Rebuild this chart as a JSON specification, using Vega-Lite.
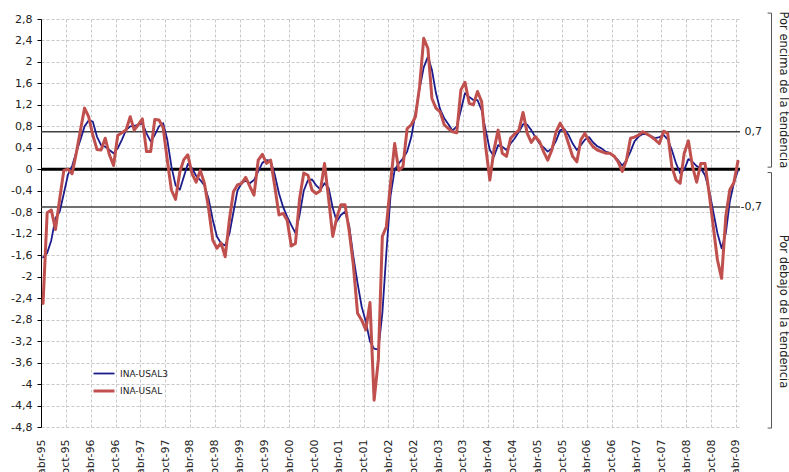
{
  "$schema": "https://vega.github.io/schema/vega-lite/v6.json",
  "width": 699,
  "height": 408,
  "autosize": {"type": "none"},
  "padding": {"left": 41, "top": 19, "right": 49, "bottom": 45},
  "background": "white",
  "config": {"font": "DejaVu Sans", "view": {"stroke": null}, "axis": {"labelOverlap": false, "labelBound": false, "labelFlush": false}},
  "datasets": {
    "main": [
      {"d":"1995-04","INA-USAL3":-1.64,"INA-USAL":-2.50},
      {"d":"1995-05","INA-USAL3":-1.56,"INA-USAL":-0.81},
      {"d":"1995-06","INA-USAL3":-1.32,"INA-USAL":-0.76},
      {"d":"1995-07","INA-USAL3":-0.91,"INA-USAL":-1.12},
      {"d":"1995-08","INA-USAL3":-0.79,"INA-USAL":-0.55},
      {"d":"1995-09","INA-USAL3":-0.45,"INA-USAL":-0.02},
      {"d":"1995-10","INA-USAL3":-0.10,"INA-USAL":0.00},
      {"d":"1995-11","INA-USAL3":0.06,"INA-USAL":-0.08},
      {"d":"1995-12","INA-USAL3":0.32,"INA-USAL":0.30},
      {"d":"1996-01","INA-USAL3":0.55,"INA-USAL":0.73},
      {"d":"1996-02","INA-USAL3":0.80,"INA-USAL":1.14},
      {"d":"1996-03","INA-USAL3":0.91,"INA-USAL":0.98},
      {"d":"1996-04","INA-USAL3":0.89,"INA-USAL":0.64},
      {"d":"1996-05","INA-USAL3":0.61,"INA-USAL":0.37},
      {"d":"1996-06","INA-USAL3":0.45,"INA-USAL":0.36},
      {"d":"1996-07","INA-USAL3":0.42,"INA-USAL":0.58},
      {"d":"1996-08","INA-USAL3":0.36,"INA-USAL":0.27},
      {"d":"1996-09","INA-USAL3":0.30,"INA-USAL":0.07},
      {"d":"1996-10","INA-USAL3":0.39,"INA-USAL":0.63},
      {"d":"1996-11","INA-USAL3":0.55,"INA-USAL":0.68},
      {"d":"1996-12","INA-USAL3":0.73,"INA-USAL":0.73},
      {"d":"1997-01","INA-USAL3":0.80,"INA-USAL":0.98},
      {"d":"1997-02","INA-USAL3":0.81,"INA-USAL":0.73},
      {"d":"1997-03","INA-USAL3":0.83,"INA-USAL":0.83},
      {"d":"1997-04","INA-USAL3":0.86,"INA-USAL":0.94},
      {"d":"1997-05","INA-USAL3":0.67,"INA-USAL":0.33},
      {"d":"1997-06","INA-USAL3":0.52,"INA-USAL":0.33},
      {"d":"1997-07","INA-USAL3":0.64,"INA-USAL":0.93},
      {"d":"1997-08","INA-USAL3":0.80,"INA-USAL":0.92},
      {"d":"1997-09","INA-USAL3":0.86,"INA-USAL":0.78},
      {"d":"1997-10","INA-USAL3":0.55,"INA-USAL":0.17},
      {"d":"1997-11","INA-USAL3":0.05,"INA-USAL":-0.39},
      {"d":"1997-12","INA-USAL3":-0.30,"INA-USAL":-0.56},
      {"d":"1998-01","INA-USAL3":-0.38,"INA-USAL":-0.05},
      {"d":"1998-02","INA-USAL3":-0.14,"INA-USAL":0.18},
      {"d":"1998-03","INA-USAL3":0.10,"INA-USAL":0.27},
      {"d":"1998-04","INA-USAL3":0.02,"INA-USAL":-0.08},
      {"d":"1998-05","INA-USAL3":-0.12,"INA-USAL":-0.24},
      {"d":"1998-06","INA-USAL3":-0.20,"INA-USAL":-0.02},
      {"d":"1998-07","INA-USAL3":-0.30,"INA-USAL":-0.26},
      {"d":"1998-08","INA-USAL3":-0.55,"INA-USAL":-0.73},
      {"d":"1998-09","INA-USAL3":-0.94,"INA-USAL":-1.32},
      {"d":"1998-10","INA-USAL3":-1.25,"INA-USAL":-1.47},
      {"d":"1998-11","INA-USAL3":-1.38,"INA-USAL":-1.37},
      {"d":"1998-12","INA-USAL3":-1.42,"INA-USAL":-1.63},
      {"d":"1999-01","INA-USAL3":-1.20,"INA-USAL":-0.94},
      {"d":"1999-02","INA-USAL3":-0.80,"INA-USAL":-0.42},
      {"d":"1999-03","INA-USAL3":-0.40,"INA-USAL":-0.29},
      {"d":"1999-04","INA-USAL3":-0.26,"INA-USAL":-0.26},
      {"d":"1999-05","INA-USAL3":-0.21,"INA-USAL":-0.15},
      {"d":"1999-06","INA-USAL3":-0.26,"INA-USAL":-0.32},
      {"d":"1999-07","INA-USAL3":-0.20,"INA-USAL":-0.48},
      {"d":"1999-08","INA-USAL3":-0.04,"INA-USAL":0.17},
      {"d":"1999-09","INA-USAL3":0.12,"INA-USAL":0.28},
      {"d":"1999-10","INA-USAL3":0.17,"INA-USAL":0.11},
      {"d":"1999-11","INA-USAL3":0.16,"INA-USAL":0.17},
      {"d":"1999-12","INA-USAL3":-0.10,"INA-USAL":-0.32},
      {"d":"2000-01","INA-USAL3":-0.45,"INA-USAL":-0.85},
      {"d":"2000-02","INA-USAL3":-0.70,"INA-USAL":-0.82},
      {"d":"2000-03","INA-USAL3":-0.88,"INA-USAL":-0.95},
      {"d":"2000-04","INA-USAL3":-1.04,"INA-USAL":-1.43},
      {"d":"2000-05","INA-USAL3":-1.19,"INA-USAL":-1.38},
      {"d":"2000-06","INA-USAL3":-0.85,"INA-USAL":-0.55},
      {"d":"2000-07","INA-USAL3":-0.40,"INA-USAL":-0.07},
      {"d":"2000-08","INA-USAL3":-0.20,"INA-USAL":-0.11},
      {"d":"2000-09","INA-USAL3":-0.19,"INA-USAL":-0.39},
      {"d":"2000-10","INA-USAL3":-0.30,"INA-USAL":-0.45},
      {"d":"2000-11","INA-USAL3":-0.38,"INA-USAL":-0.40},
      {"d":"2000-12","INA-USAL3":-0.26,"INA-USAL":0.11},
      {"d":"2001-01","INA-USAL3":-0.35,"INA-USAL":-0.57},
      {"d":"2001-02","INA-USAL3":-0.72,"INA-USAL":-1.25},
      {"d":"2001-03","INA-USAL3":-0.97,"INA-USAL":-0.90},
      {"d":"2001-04","INA-USAL3":-0.85,"INA-USAL":-0.66},
      {"d":"2001-05","INA-USAL3":-0.79,"INA-USAL":-0.66},
      {"d":"2001-06","INA-USAL3":-1.05,"INA-USAL":-1.15},
      {"d":"2001-07","INA-USAL3":-1.62,"INA-USAL":-1.78},
      {"d":"2001-08","INA-USAL3":-2.12,"INA-USAL":-2.68},
      {"d":"2001-09","INA-USAL3":-2.56,"INA-USAL":-2.81},
      {"d":"2001-10","INA-USAL3":-2.84,"INA-USAL":-2.99},
      {"d":"2001-11","INA-USAL3":-3.21,"INA-USAL":-2.48},
      {"d":"2001-12","INA-USAL3":-3.34,"INA-USAL":-4.30},
      {"d":"2002-01","INA-USAL3":-3.36,"INA-USAL":-3.55},
      {"d":"2002-02","INA-USAL3":-2.68,"INA-USAL":-1.25},
      {"d":"2002-03","INA-USAL3":-1.56,"INA-USAL":-1.07},
      {"d":"2002-04","INA-USAL3":-0.50,"INA-USAL":-0.26},
      {"d":"2002-05","INA-USAL3":-0.01,"INA-USAL":0.48},
      {"d":"2002-06","INA-USAL3":0.11,"INA-USAL":-0.02},
      {"d":"2002-07","INA-USAL3":0.20,"INA-USAL":0.05},
      {"d":"2002-08","INA-USAL3":0.33,"INA-USAL":0.76},
      {"d":"2002-09","INA-USAL3":0.60,"INA-USAL":0.83},
      {"d":"2002-10","INA-USAL3":1.04,"INA-USAL":0.98},
      {"d":"2002-11","INA-USAL3":1.50,"INA-USAL":1.54},
      {"d":"2002-12","INA-USAL3":1.90,"INA-USAL":2.44},
      {"d":"2003-01","INA-USAL3":2.10,"INA-USAL":2.25},
      {"d":"2003-02","INA-USAL3":1.85,"INA-USAL":1.32},
      {"d":"2003-03","INA-USAL3":1.42,"INA-USAL":1.14},
      {"d":"2003-04","INA-USAL3":1.12,"INA-USAL":1.07},
      {"d":"2003-05","INA-USAL3":0.95,"INA-USAL":0.83},
      {"d":"2003-06","INA-USAL3":0.84,"INA-USAL":0.76},
      {"d":"2003-07","INA-USAL3":0.72,"INA-USAL":0.70},
      {"d":"2003-08","INA-USAL3":0.80,"INA-USAL":0.68},
      {"d":"2003-09","INA-USAL3":1.10,"INA-USAL":1.48},
      {"d":"2003-10","INA-USAL3":1.42,"INA-USAL":1.62},
      {"d":"2003-11","INA-USAL3":1.35,"INA-USAL":1.23},
      {"d":"2003-12","INA-USAL3":1.29,"INA-USAL":1.20},
      {"d":"2004-01","INA-USAL3":1.29,"INA-USAL":1.45},
      {"d":"2004-02","INA-USAL3":1.10,"INA-USAL":1.26},
      {"d":"2004-03","INA-USAL3":0.73,"INA-USAL":0.42},
      {"d":"2004-04","INA-USAL3":0.36,"INA-USAL":-0.20},
      {"d":"2004-05","INA-USAL3":0.24,"INA-USAL":0.36},
      {"d":"2004-06","INA-USAL3":0.45,"INA-USAL":0.73},
      {"d":"2004-07","INA-USAL3":0.42,"INA-USAL":0.30},
      {"d":"2004-08","INA-USAL3":0.36,"INA-USAL":0.24},
      {"d":"2004-09","INA-USAL3":0.48,"INA-USAL":0.58},
      {"d":"2004-10","INA-USAL3":0.58,"INA-USAL":0.66},
      {"d":"2004-11","INA-USAL3":0.70,"INA-USAL":0.73},
      {"d":"2004-12","INA-USAL3":0.84,"INA-USAL":1.06},
      {"d":"2005-01","INA-USAL3":0.83,"INA-USAL":0.67},
      {"d":"2005-02","INA-USAL3":0.73,"INA-USAL":0.50},
      {"d":"2005-03","INA-USAL3":0.60,"INA-USAL":0.61},
      {"d":"2005-04","INA-USAL3":0.48,"INA-USAL":0.52},
      {"d":"2005-05","INA-USAL3":0.41,"INA-USAL":0.33},
      {"d":"2005-06","INA-USAL3":0.33,"INA-USAL":0.17},
      {"d":"2005-07","INA-USAL3":0.39,"INA-USAL":0.36},
      {"d":"2005-08","INA-USAL3":0.53,"INA-USAL":0.70},
      {"d":"2005-09","INA-USAL3":0.73,"INA-USAL":0.86},
      {"d":"2005-10","INA-USAL3":0.75,"INA-USAL":0.72},
      {"d":"2005-11","INA-USAL3":0.64,"INA-USAL":0.48},
      {"d":"2005-12","INA-USAL3":0.48,"INA-USAL":0.24},
      {"d":"2006-01","INA-USAL3":0.36,"INA-USAL":0.14},
      {"d":"2006-02","INA-USAL3":0.45,"INA-USAL":0.55},
      {"d":"2006-03","INA-USAL3":0.55,"INA-USAL":0.67},
      {"d":"2006-04","INA-USAL3":0.60,"INA-USAL":0.52},
      {"d":"2006-05","INA-USAL3":0.50,"INA-USAL":0.42},
      {"d":"2006-06","INA-USAL3":0.43,"INA-USAL":0.36},
      {"d":"2006-07","INA-USAL3":0.39,"INA-USAL":0.33},
      {"d":"2006-08","INA-USAL3":0.33,"INA-USAL":0.30},
      {"d":"2006-09","INA-USAL3":0.30,"INA-USAL":0.30},
      {"d":"2006-10","INA-USAL3":0.24,"INA-USAL":0.25},
      {"d":"2006-11","INA-USAL3":0.17,"INA-USAL":0.14},
      {"d":"2006-12","INA-USAL3":0.07,"INA-USAL":-0.04},
      {"d":"2007-01","INA-USAL3":0.17,"INA-USAL":0.17},
      {"d":"2007-02","INA-USAL3":0.33,"INA-USAL":0.58},
      {"d":"2007-03","INA-USAL3":0.52,"INA-USAL":0.60},
      {"d":"2007-04","INA-USAL3":0.61,"INA-USAL":0.64},
      {"d":"2007-05","INA-USAL3":0.66,"INA-USAL":0.70},
      {"d":"2007-06","INA-USAL3":0.65,"INA-USAL":0.66},
      {"d":"2007-07","INA-USAL3":0.62,"INA-USAL":0.61},
      {"d":"2007-08","INA-USAL3":0.58,"INA-USAL":0.55},
      {"d":"2007-09","INA-USAL3":0.60,"INA-USAL":0.48},
      {"d":"2007-10","INA-USAL3":0.64,"INA-USAL":0.71},
      {"d":"2007-11","INA-USAL3":0.56,"INA-USAL":0.67},
      {"d":"2007-12","INA-USAL3":0.36,"INA-USAL":0.05},
      {"d":"2008-01","INA-USAL3":0.11,"INA-USAL":-0.20},
      {"d":"2008-02","INA-USAL3":-0.07,"INA-USAL":-0.26},
      {"d":"2008-03","INA-USAL3":-0.01,"INA-USAL":0.30},
      {"d":"2008-04","INA-USAL3":0.19,"INA-USAL":0.53},
      {"d":"2008-05","INA-USAL3":0.14,"INA-USAL":0.05},
      {"d":"2008-06","INA-USAL3":0.06,"INA-USAL":-0.24},
      {"d":"2008-07","INA-USAL3":0.02,"INA-USAL":0.11},
      {"d":"2008-08","INA-USAL3":-0.11,"INA-USAL":0.11},
      {"d":"2008-09","INA-USAL3":-0.39,"INA-USAL":-0.45},
      {"d":"2008-10","INA-USAL3":-0.79,"INA-USAL":-1.07},
      {"d":"2008-11","INA-USAL3":-1.19,"INA-USAL":-1.69},
      {"d":"2008-12","INA-USAL3":-1.47,"INA-USAL":-2.03},
      {"d":"2009-01","INA-USAL3":-1.19,"INA-USAL":-0.88},
      {"d":"2009-02","INA-USAL3":-0.60,"INA-USAL":-0.38},
      {"d":"2009-03","INA-USAL3":-0.26,"INA-USAL":-0.25},
      {"d":"2009-04","INA-USAL3":-0.02,"INA-USAL":0.15}
    ]
  },
  "layer": [
    {
      "data": {"values": [{"y": 0.7}, {"y": -0.7}]},
      "mark": {"type": "rule", "color": "#404040", "strokeWidth": 1.5},
      "encoding": {
        "y": {"field": "y", "type": "quantitative", "scale": {"domain": [-4.8, 2.8], "nice": false, "zero": false}}
      }
    },
    {
      "data": {"values": [{"y": 0}]},
      "mark": {"type": "rule", "color": "#000000", "strokeWidth": 3},
      "encoding": {
        "y": {"field": "y", "type": "quantitative", "scale": {"domain": [-4.8, 2.8], "nice": false, "zero": false}}
      }
    },
    {
      "data": {"name": "main"},
      "transform": [{"fold": ["INA-USAL3", "INA-USAL"], "as": ["serie", "v"]}],
      "mark": {"type": "line", "strokeJoin": "round", "strokeCap": "round"},
      "encoding": {
        "x": {
          "field": "d", "type": "temporal", "timeUnit": "utcyearmonth", "bandPosition": 0.5,
          "scale": {"type": "utc", "nice": false, "domain": [{"year": 1995, "month": 4, "date": 1, "utc": true}, {"year": 2009, "month": 5, "date": 1, "utc": true}]},
          "axis": {
            "title": null,
            "tickCount": 60,
            "values": [
              {"year":1995,"month":4,"date":1,"utc":true},{"year":1995,"month":10,"date":1,"utc":true},
              {"year":1996,"month":4,"date":1,"utc":true},{"year":1996,"month":10,"date":1,"utc":true},
              {"year":1997,"month":4,"date":1,"utc":true},{"year":1997,"month":10,"date":1,"utc":true},
              {"year":1998,"month":4,"date":1,"utc":true},{"year":1998,"month":10,"date":1,"utc":true},
              {"year":1999,"month":4,"date":1,"utc":true},{"year":1999,"month":10,"date":1,"utc":true},
              {"year":2000,"month":4,"date":1,"utc":true},{"year":2000,"month":10,"date":1,"utc":true},
              {"year":2001,"month":4,"date":1,"utc":true},{"year":2001,"month":10,"date":1,"utc":true},
              {"year":2002,"month":4,"date":1,"utc":true},{"year":2002,"month":10,"date":1,"utc":true},
              {"year":2003,"month":4,"date":1,"utc":true},{"year":2003,"month":10,"date":1,"utc":true},
              {"year":2004,"month":4,"date":1,"utc":true},{"year":2004,"month":10,"date":1,"utc":true},
              {"year":2005,"month":4,"date":1,"utc":true},{"year":2005,"month":10,"date":1,"utc":true},
              {"year":2006,"month":4,"date":1,"utc":true},{"year":2006,"month":10,"date":1,"utc":true},
              {"year":2007,"month":4,"date":1,"utc":true},{"year":2007,"month":10,"date":1,"utc":true},
              {"year":2008,"month":4,"date":1,"utc":true},{"year":2008,"month":10,"date":1,"utc":true},
              {"year":2009,"month":4,"date":1,"utc":true}
            ],
            "labelExpr": "(utcmonth(datum.value) == 3 ? 'abr' : 'oct') + '-' + utcFormat(datum.value, '%y')",
            "labelAngle": -90,
            "labelOverlap": false,
            "labelFont": "DejaVu Sans",
            "labelFontSize": 11,
            "labelColor": "#222222",
            "labelPadding": 12,
            "ticks": false,
            "domain": false,
            "grid": true,
            "gridColor": "#C8C8C8",
            "gridDash": [3, 2],
            "gridWidth": 1
          }
        },
        "y": {
          "field": "v", "type": "quantitative",
          "scale": {"domain": [-4.8, 2.8], "nice": false, "zero": false},
          "axis": {
            "title": null,
            "tickCount": 60,
            "values": [-4.8, -4.4, -4, -3.6, -3.2, -2.8, -2.4, -2, -1.6, -1.2, -0.8, -0.4, 0, 0.4, 0.8, 1.2, 1.6, 2, 2.4, 2.8],
            "labelExpr": "replace(replace(format(datum.value, '.1~f'), '.', ','), '\u2212', '-')",
            "labelOverlap": false,
            "labelFont": "DejaVu Sans",
            "labelFontSize": 11,
            "labelColor": "#222222",
            "labelPadding": 5,
            "tickSize": 4,
            "tickColor": "#000000",
            "domainColor": "#000000",
            "grid": true,
            "gridColor": "#C8C8C8",
            "gridDash": [3, 2],
            "gridWidth": 1
          }
        },
        "color": {
          "field": "serie", "type": "nominal",
          "scale": {"domain": ["INA-USAL3", "INA-USAL"], "range": ["#1C1C8C", "#C0504D"]},
          "legend": {
            "title": null,
            "orient": "none",
            "legendX": 51,
            "legendY": 343,
            "symbolType": "stroke",
            "symbolSize": 441,
            "symbolStrokeWidth": 2.2,
            "labelFont": "DejaVu Sans",
            "labelFontSize": 9,
            "labelColor": "#222222",
            "labelOffset": 4,
            "rowPadding": 0,
            "padding": 0
          }
        },
        "strokeWidth": {
          "field": "serie", "type": "nominal",
          "scale": {"domain": ["INA-USAL3", "INA-USAL"], "range": [1.8, 3]},
          "legend": null
        }
      }
    },
    {
      "data": {"values": [{"d": "2009-10-10", "y": 0.7, "t": "0,7"}, {"d": "2009-10-10", "y": -0.7, "t": "-0,7"}]},
      "mark": {"type": "text", "align": "right", "baseline": "middle", "fontSize": 11, "font": "DejaVu Sans", "color": "#222222"},
      "encoding": {
        "x": {"field": "d", "type": "temporal", "scale": {"type": "utc", "nice": false, "domain": [{"year": 1995, "month": 4, "date": 1, "utc": true}, {"year": 2009, "month": 5, "date": 1, "utc": true}]}},
        "y": {"field": "y", "type": "quantitative", "scale": {"domain": [-4.8, 2.8], "nice": false, "zero": false}},
        "text": {"field": "t"}
      }
    },
    {
      "data": {"values": [{"d": "2009-12-19", "y": 2.91, "y2": 0.04}, {"d": "2009-12-19", "y": -0.06, "y2": -4.82}]},
      "mark": {"type": "rule", "color": "#555555", "strokeWidth": 1},
      "encoding": {
        "x": {"field": "d", "type": "temporal", "scale": {"type": "utc", "nice": false, "domain": [{"year": 1995, "month": 4, "date": 1, "utc": true}, {"year": 2009, "month": 5, "date": 1, "utc": true}]}},
        "y": {"field": "y", "type": "quantitative", "scale": {"domain": [-4.8, 2.8], "nice": false, "zero": false}},
        "y2": {"field": "y2"}
      }
    },
    {
      "data": {"values": [
        {"d": "2009-11-20", "d2": "2009-12-19", "y": 2.91},
        {"d": "2009-11-20", "d2": "2009-12-19", "y": 0.04},
        {"d": "2009-11-20", "d2": "2009-12-19", "y": -0.06},
        {"d": "2009-11-20", "d2": "2009-12-19", "y": -4.82}
      ]},
      "mark": {"type": "rule", "color": "#555555", "strokeWidth": 1},
      "encoding": {
        "x": {"field": "d", "type": "temporal", "scale": {"type": "utc", "nice": false, "domain": [{"year": 1995, "month": 4, "date": 1, "utc": true}, {"year": 2009, "month": 5, "date": 1, "utc": true}]}},
        "x2": {"field": "d2"},
        "y": {"field": "y", "type": "quantitative", "scale": {"domain": [-4.8, 2.8], "nice": false, "zero": false}}
      }
    },
    {
      "data": {"values": [{"d": "2010-03-10", "y": 1.48, "t": "Por encima de la tendencia"}, {"d": "2010-03-10", "y": -2.65, "t": "Por debajo de la tendencia"}]},
      "mark": {"type": "text", "angle": 90, "align": "center", "baseline": "middle", "fontSize": 11.5, "font": "DejaVu Sans", "color": "#222222"},
      "encoding": {
        "x": {"field": "d", "type": "temporal", "scale": {"type": "utc", "nice": false, "domain": [{"year": 1995, "month": 4, "date": 1, "utc": true}, {"year": 2009, "month": 5, "date": 1, "utc": true}]}},
        "y": {"field": "y", "type": "quantitative", "scale": {"domain": [-4.8, 2.8], "nice": false, "zero": false}},
        "text": {"field": "t"}
      }
    }
  ]
}
